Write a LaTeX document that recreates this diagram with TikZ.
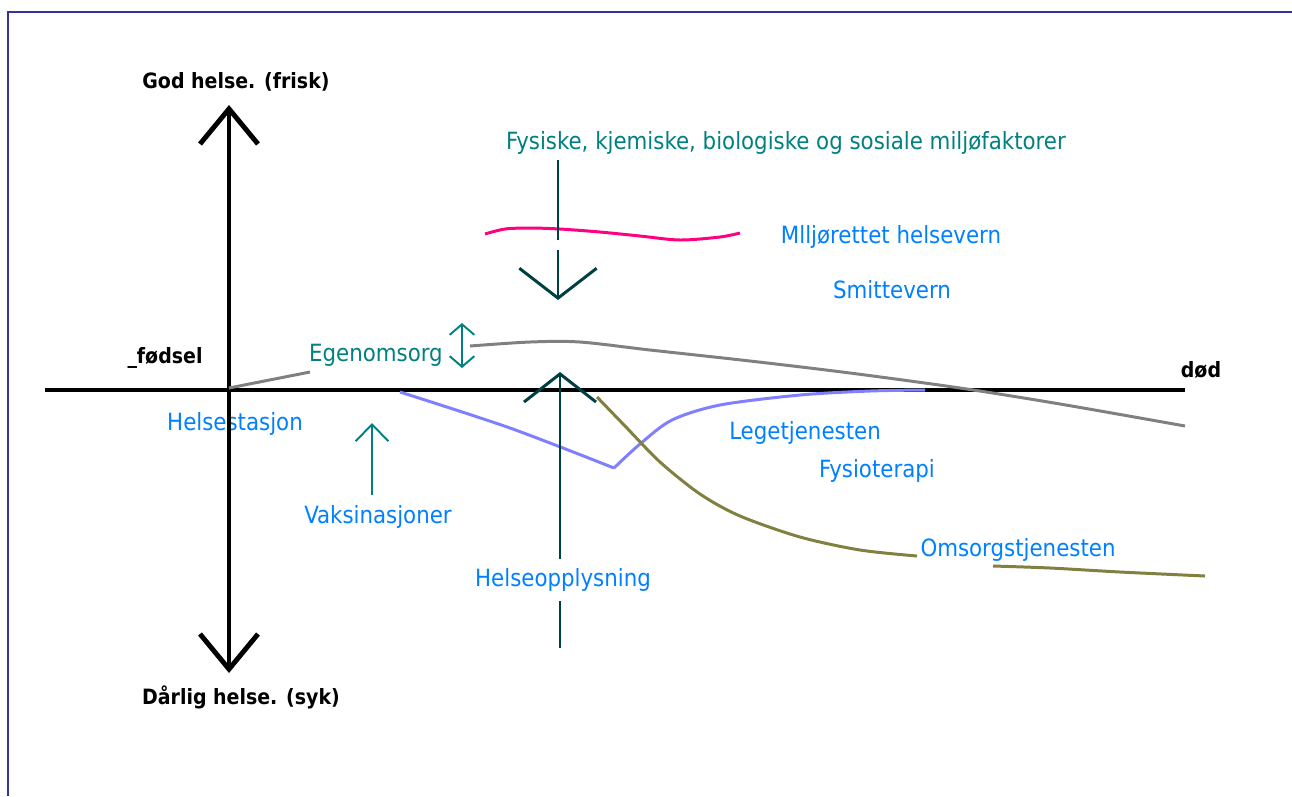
\documentclass[tikz,border=0pt]{standalone}
\usepackage{fontspec}
\setmainfont{DejaVu Sans Condensed}
\usetikzlibrary{arrows.meta}

\definecolor{rammeblaa}{HTML}{333399}
\definecolor{tekstblaa}{HTML}{0080FF}
\definecolor{tekstgronn}{HTML}{008080}
\definecolor{mork}{HTML}{004040}
\definecolor{rosa}{HTML}{FF0080}
\definecolor{lilla}{HTML}{8080FF}
\definecolor{oliven}{HTML}{808040}

\tikzset{
	svart/.style={font=\bfseries\fontsize{12}{14}\selectfont, text=black},
	blaa/.style={font=\fontsize{13.5}{16}\selectfont, text=tekstblaa},
	gronn/.style={font=\fontsize{13.5}{16}\selectfont, text=tekstgronn},
	kurve/.style={line width=1.7pt},
}

\begin{document}
\begin{tikzpicture}[x=0.02cm,y=-0.02cm]
	\useasboundingbox (0,0) rectangle (1292,796);

	% Frame
	\draw[rammeblaa,line width=1.1pt] (8,796) -- (8,12) -- (1292,12);

	% Labels
	\node[svart] (god) at (236,82) {God helse. (frisk)};
	\node[svart] (darlig) at (241,697) {Dårlig helse. (syk)};
	\node[svart] (fodsel) at (165,358) {\_fødsel};
	\node[svart] (dod) at (1201,370) {død};
	\node[gronn] (faktorer) at (786,143) {Fysiske, kjemiske, biologiske og sosiale miljøfaktorer};
	\node[blaa] (miljo) at (891,237) {Mlljørettet helsevern};
	\node[blaa] (smitte) at (892,290) {Smittevern};
	\node[gronn] (egen) at (376,355) {Egenomsorg};
	\node[blaa] (stasjon) at (235,424) {Helsestasjon};
	\node[blaa] (vaks) at (378,517) {Vaksinasjoner};
	\node[blaa,inner sep=5pt] (opplys) at (563,580) {Helseopplysning};
	\node[blaa] (lege) at (805,433) {Legetjenesten};
	\node[blaa] (fysio) at (877,471) {Fysioterapi};
	\node[blaa] (omsorg) at (1018,550) {Omsorgstjenesten};

	% Axes
	\coordinate (topp) at (229,105);
	\coordinate (bunn) at (229,673);
	\coordinate (start) at (45,390);
	\coordinate (slutt) at (1185,390);
	\draw[line width=2.8pt,{Straight Barb[length=20pt,width=33pt]}-{Straight Barb[length=20pt,width=33pt]}] (bunn) -- (topp);
	\draw[line width=2.8pt] (start) -- (slutt);

	% Curves
	\draw[gray,kurve] (229,388) -- (310,372);
	\draw[gray,kurve] plot[smooth] coordinates {(470,346) (530,342) (580,342) (650,350) (750,361) (850,373) (960,388) (1060,404) (1185,426)};
	\draw[lilla,kurve] plot[smooth] coordinates {(400,392) (510,428) (614,468)};
	\draw[lilla,kurve] plot[smooth] coordinates {(614,468) (640,444) (672,420) (720,405) (800,395) (870,391) (925,390)};
	\draw[oliven,kurve] plot[smooth] coordinates {(597,397) (625,426) (660,462) (700,494) (740,516) (800,537) (860,550) (917,556)};
	\draw[oliven,kurve] plot[smooth] coordinates {(993,566) (1050,568) (1120,572) (1205,576)};
	\draw[rosa,line width=1.7pt] plot[smooth] coordinates {(485,234) (505,229) (530,228) (560,229) (600,232) (640,236) (680,240) (720,237) (740,233)};

	% Influence arrows
	\coordinate (ned1) at (558,160);
	\coordinate (ned2) at (558,240);
	\coordinate (ned3) at (558,250);
	\coordinate (nedspiss) at (558,300);
	\draw[mork,line width=1.7pt] (ned1) -- (ned2);
	\draw[mork,line width=1.7pt,-{Straight Barb[length=17pt,width=44pt]}] (ned3) -- (nedspiss);

	\coordinate (oppbunn) at (560,648);
	\coordinate (oppspiss) at (560,372);
	\draw[mork,line width=1.7pt] (oppbunn) -- (opplys.south -| oppbunn);
	\draw[mork,line width=1.7pt,-{Straight Barb[length=16pt,width=41pt]}] (opplys.north -| oppbunn) -- (oppspiss);

	\draw[tekstgronn,line width=1.1pt,-{Straight Barb[length=9.6pt,width=18.7pt]}] (372,495) -- (372,423);
	\draw[tekstgronn,line width=1.1pt,{Straight Barb[length=6pt,width=14pt]}-{Straight Barb[length=6pt,width=14pt]}] (462,368) -- (462,323);

\end{tikzpicture}
\end{document}
